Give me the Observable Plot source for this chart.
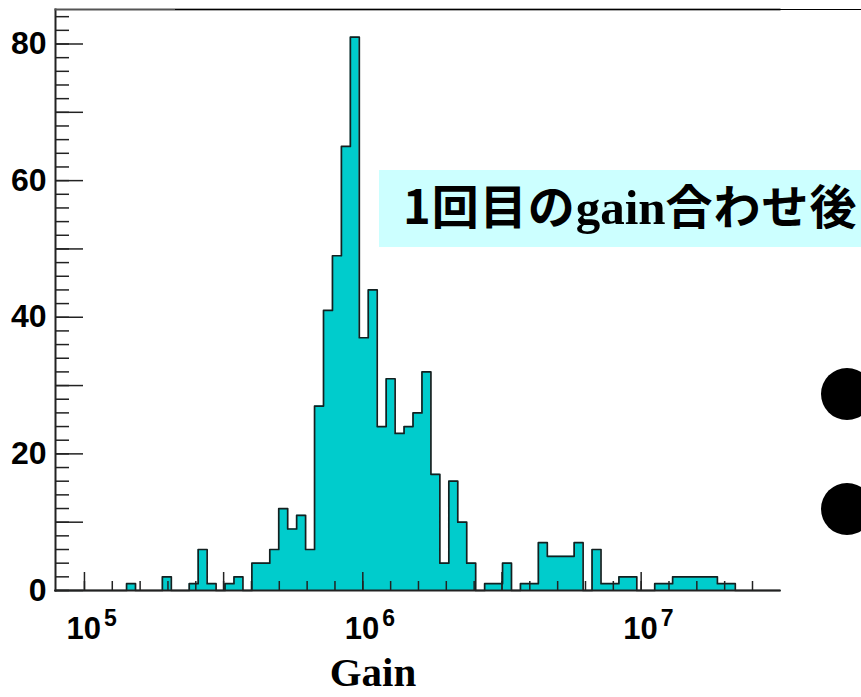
<!DOCTYPE html>
<html><head><meta charset="utf-8">
<script src="https://cdn.jsdelivr.net/npm/d3@7"></script>
<script src="https://cdn.jsdelivr.net/npm/@observablehq/plot@0.6"></script>
<style>
body{margin:0;background:#fff;}
#wrap{position:relative;width:861px;height:697px;overflow:hidden;background:#fff;}
#chart{position:absolute;left:0;top:0;}
#title{position:absolute;left:379px;top:170px;width:482px;height:77px;background:#ccffff;font-family:"Noto Sans CJK JP";font-weight:700;font-size:47px;line-height:67px;letter-spacing:1px;white-space:nowrap;color:#000;padding-left:24px;box-sizing:border-box;}
#title .lat{font-family:"Liberation Serif";font-weight:700;font-size:49px;letter-spacing:0;}
.bullet{position:absolute;width:52px;height:52px;border-radius:50%;background:#000;}
#topline{position:absolute;left:175px;top:8.5px;width:686px;height:1.5px;background:#000;}
</style></head><body>
<div id="wrap"><div id="chart"></div>
<div id="topline"></div>
<div id="title">1回目の<span class="lat">gain</span>合わせ後</div>
<div class="bullet" style="left:821px;top:368px"></div>
<div class="bullet" style="left:821px;top:483px"></div>
</div>
<script>
// histogram counts per bin (log10(gain) bins)
const counts = [
  0,0,0,0,0,0,0,0,1,0,
  0,0,2,0,0,1,6,1,0,1,
  2,0,4,4,6,12,9,11,6,27,
  41,49,65,81,37,44,24,31,23,24,
  26,32,17,4,16,10,4,0,1,1,
  4,0,1,1,7,5,5,5,7,0,
  6,1,1,2,2,0,0,1,1,2,
  2,2,2,2,1,1,0,0,0,0,
  0
];
const binStart = 4.894;   // log10 of first bin's lower edge
const binWidth = 0.03216; // bin width in decades
const xDomain = [4.896, 7.497];
const yDomain = [0, 85.05];
const xLabelTicks = [5, 6, 7];
const xMajorTicks = [5, 5.5, 6, 6.5, 7];
const xMinorTicks = d3.range(50, 75).map(d => d / 10);
const yLabelTicks = [0, 20, 40, 60, 80];
const yMajorTicks = [0, 10, 20, 30, 40, 50, 60, 70, 80];
const yMinorTicks = d3.range(0, 86, 2);
const axisTitle = "Gain";

const pts = counts.map((c, i) => ({x: binStart + i * binWidth, y: c}));
pts.push({x: binStart + counts.length * binWidth, y: counts[counts.length - 1]});

const W = 861, H = 697, mL = 55, mR = 82, mT = 9, mB = 107;
const pw = W - mL - mR, ph = H - mT - mB;
const ink = "#222";

const chart = Plot.plot({
  width: W, height: H,
  marginLeft: mL, marginRight: mR, marginTop: mT, marginBottom: mB,
  x: {type: "linear", domain: xDomain, label: null},
  y: {domain: yDomain, label: null},
  style: {background: "transparent", overflow: "visible"},
  marks: [
    Plot.areaY(pts, {x: "x", y: "y", curve: "step-after", fill: "#00cccc"}),
    Plot.tickX(xMinorTicks, {x: d => d, insetTop: ph - 9, stroke: ink, strokeWidth: 1.5}),
    Plot.tickX(xMajorTicks, {x: d => d, insetTop: ph - 18, stroke: ink, strokeWidth: 1.5}),
    Plot.tickY(yMinorTicks, {y: d => d, insetRight: pw - 14, stroke: ink, strokeWidth: 1.5}),
    Plot.tickY(yMajorTicks, {y: d => d, insetRight: pw - 28, stroke: ink, strokeWidth: 1.5}),
    Plot.line(pts, {x: "x", y: "y", curve: "step-after", stroke: "#142020", strokeWidth: 1.7}),
    Plot.frame({anchor: "left", stroke: ink, strokeWidth: 2}),
    Plot.frame({anchor: "bottom", stroke: ink, strokeWidth: 2}),
    Plot.frame({anchor: "top", stroke: "#555", strokeWidth: 2}),
    Plot.axisY(yLabelTicks, {tickSize: 0, tickPadding: 9, fontSize: 32, fontWeight: "bold", fontFamily: "Liberation Sans", fill: "#000", label: null}),
    Plot.axisX(xLabelTicks, {tickSize: 0, tickPadding: 26, fontSize: 31, fontWeight: "bold", fontFamily: "Liberation Sans", fill: "#000", label: null, tickFormat: d => String(d)}),
    Plot.text([axisTitle], {text: d => d, frameAnchor: "bottom", dx: -44.5, dy: 95, fontSize: 41, fontWeight: "bold", fontFamily: "Liberation Serif", fill: "#000"})
  ]
});
document.getElementById("chart").appendChild(chart);

// render x tick labels as 10^n with raised exponent
const ns = "http://www.w3.org/2000/svg";
chart.querySelectorAll('g[aria-label="x-axis tick label"] text').forEach(t => {
  const e = t.textContent;
  t.textContent = "";
  t.setAttribute("text-anchor", "start");
  const a = document.createElementNS(ns, "tspan");
  a.setAttribute("dx", "-18");
  a.textContent = "10";
  const b = document.createElementNS(ns, "tspan");
  b.setAttribute("dx", "3");
  b.setAttribute("dy", "-13");
  b.setAttribute("font-size", "23");
  b.textContent = e;
  t.appendChild(a); t.appendChild(b);
});
</script>
</body></html>
